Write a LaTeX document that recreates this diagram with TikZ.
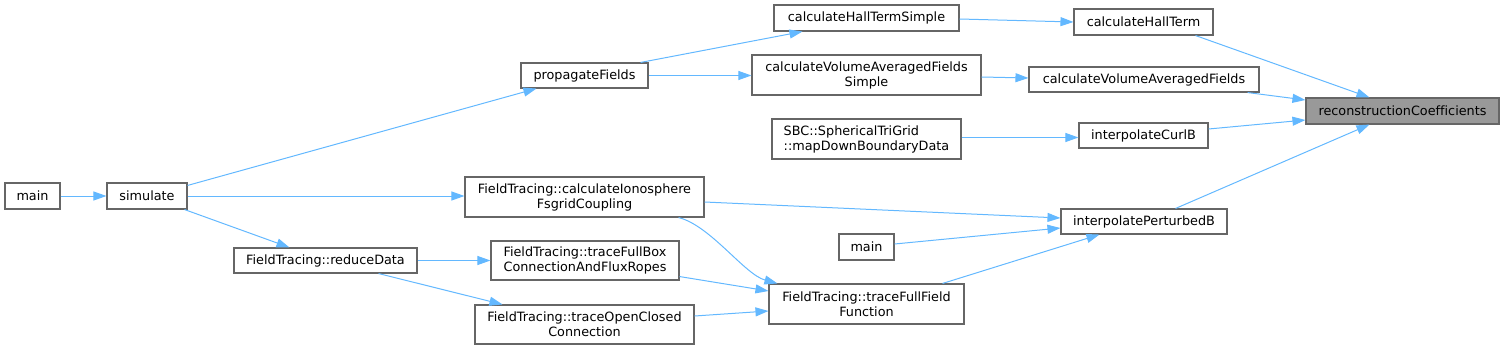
\documentclass[tikz,border=0pt]{standalone}
\usepackage{fontspec}
\setmainfont{DejaVu Sans}[Ligatures=NoCommon]
\usetikzlibrary{arrows.meta,calc}
\definecolor{edgec}{HTML}{63B8FF}
\definecolor{bordc}{HTML}{666666}
\definecolor{hlfill}{HTML}{999999}
\begin{document}
\begin{tikzpicture}[x=1pt,y=-1pt,
  box/.style={draw=bordc, line width=1.1pt, fill=white, inner sep=0pt, align=center,
    font=\fontsize{12.8}{15}\selectfont},
  hlbox/.style={box, fill=hlfill},
  edge/.style={draw=edgec, line width=1pt, -{Triangle[length=13pt,width=9pt]}, edgec}]
\useasboundingbox (0,0) rectangle (1504,350);

% nodes
\node[box, minimum width=55pt, minimum height=26pt] (mainL) at (32.5,196) {main};
\node[box, minimum width=80pt, minimum height=26pt] (sim) at (147,196) {simulate};
\node[box, minimum width=127pt, minimum height=25pt] (pf) at (584.5,75.5) {propagateFields};
\node[box, minimum width=185pt, minimum height=26pt] (hts) at (866.5,18) {calculateHallTermSimple};
\node[box, minimum width=229pt, minimum height=40pt] (cvas) at (866.5,75) {calculateVolumeAveragedFields\\Simple};
\node[box, minimum width=189pt, minimum height=40pt, align=left] (sbc) at (866.5,139) {SBC::SphericalTriGrid\\::mapDownBoundaryData};
\node[box, minimum width=239pt, minimum height=40pt] (iono) at (584.5,197) {FieldTracing::calculateIonosphere\\FsgridCoupling};
\node[box, minimum width=183pt, minimum height=25pt] (rd) at (325.5,260.5) {FieldTracing::reduceData};
\node[box, minimum width=188pt, minimum height=39pt] (tfb) at (585,260.5) {FieldTracing::traceFullBox\\ConnectionAndFluxRopes};
\node[box, minimum width=219pt, minimum height=39pt] (toc) at (584.5,324.5) {FieldTracing::traceOpenClosed\\Connection};
\node[box, minimum width=195pt, minimum height=40pt] (tff) at (866.5,304) {FieldTracing::traceFullField\\Function};
\node[box, minimum width=55pt, minimum height=26pt] (mainR) at (866.5,247) {main};
\node[box, minimum width=139pt, minimum height=26pt] (ht) at (1143.5,22) {calculateHallTerm};
\node[box, minimum width=230pt, minimum height=25pt] (cva) at (1144,79.5) {calculateVolumeAveragedFields};
\node[box, minimum width=129pt, minimum height=25pt] (icb) at (1143.5,135.5) {interpolateCurlB};
\node[box, minimum width=166pt, minimum height=25pt] (ipb) at (1144,221.5) {interpolatePerturbedB};
\node[hlbox, minimum width=193pt, minimum height=26pt] (rc) at (1402.5,111) {reconstructionCoefficients};

% edges
\draw[edge] (mainL.east) -- (sim.west);
\draw[edge] ($(sim.north east)+(0,3)$) -- ($(pf.south west)+(16,0)$);
\draw[edge] (sim.east) -- (sim.east -| iono.west);
\draw[edge] ($(sim.south east)+(-3,0)$) -- ($(rd.north west)+(56,0)$);
\draw[edge] ($(pf.north east)+(-8,0)$) -- ($(hts.south west)+(29,0)$);
\draw[edge] (pf.east) -- (pf.east -| cvas.west);
\draw[edge] ($(hts.east)+(0,1)$) -- (ht.west);
\draw[edge] ($(cvas.east)+(0,2)$) -- ($(cva.west)+(0,-1.5)$);
\draw[edge] ($(sbc.east)+(0,-1.5)$) -- ($(icb.west)+(0,2)$);
\draw[edge] ($(iono.east)+(0,5)$) -- ($(ipb.west)+(0,-3.5)$);
\draw[edge] ($(mainR.east)+(0,-3)$) -- ($(ipb.west)+(0,6.5)$);
\draw[edge] ($(tff.north east)+(-22,0)$) -- ($(ipb.south west)+(39,0)$);
\draw[edge] ($(iono.south east)+(-26,0)$) .. controls +(32,8) and +(-33,-9) .. ($(tff.north west)+(9,0)$);
\draw[edge] ($(tfb.south east)+(0,-4)$) -- ($(tff.west)+(0,-13)$);
\draw[edge] ($(toc.east)+(0,-8.5)$) -- ($(tff.west)+(0,7)$);
\draw[edge] (rd.east) -- (rd.east -| tfb.west);
\draw[edge] ($(rd.south east)+(-39,0)$) -- ($(toc.north west)+(28,0)$);
\draw[edge] ($(ht.south east)+(-18,0)$) -- ($(rc.north west)+(64,0)$);
\draw[edge] ($(cva.south east)+(-12,0)$) -- ($(rc.west)+(0,-11)$);
\draw[edge] ($(icb.east)+(0,-6.5)$) -- ($(rc.west)+(0,9)$);
\draw[edge] ($(ipb.north east)+(-52,0)$) -- ($(rc.south west)+(64,0)$);
\end{tikzpicture}
\end{document}
